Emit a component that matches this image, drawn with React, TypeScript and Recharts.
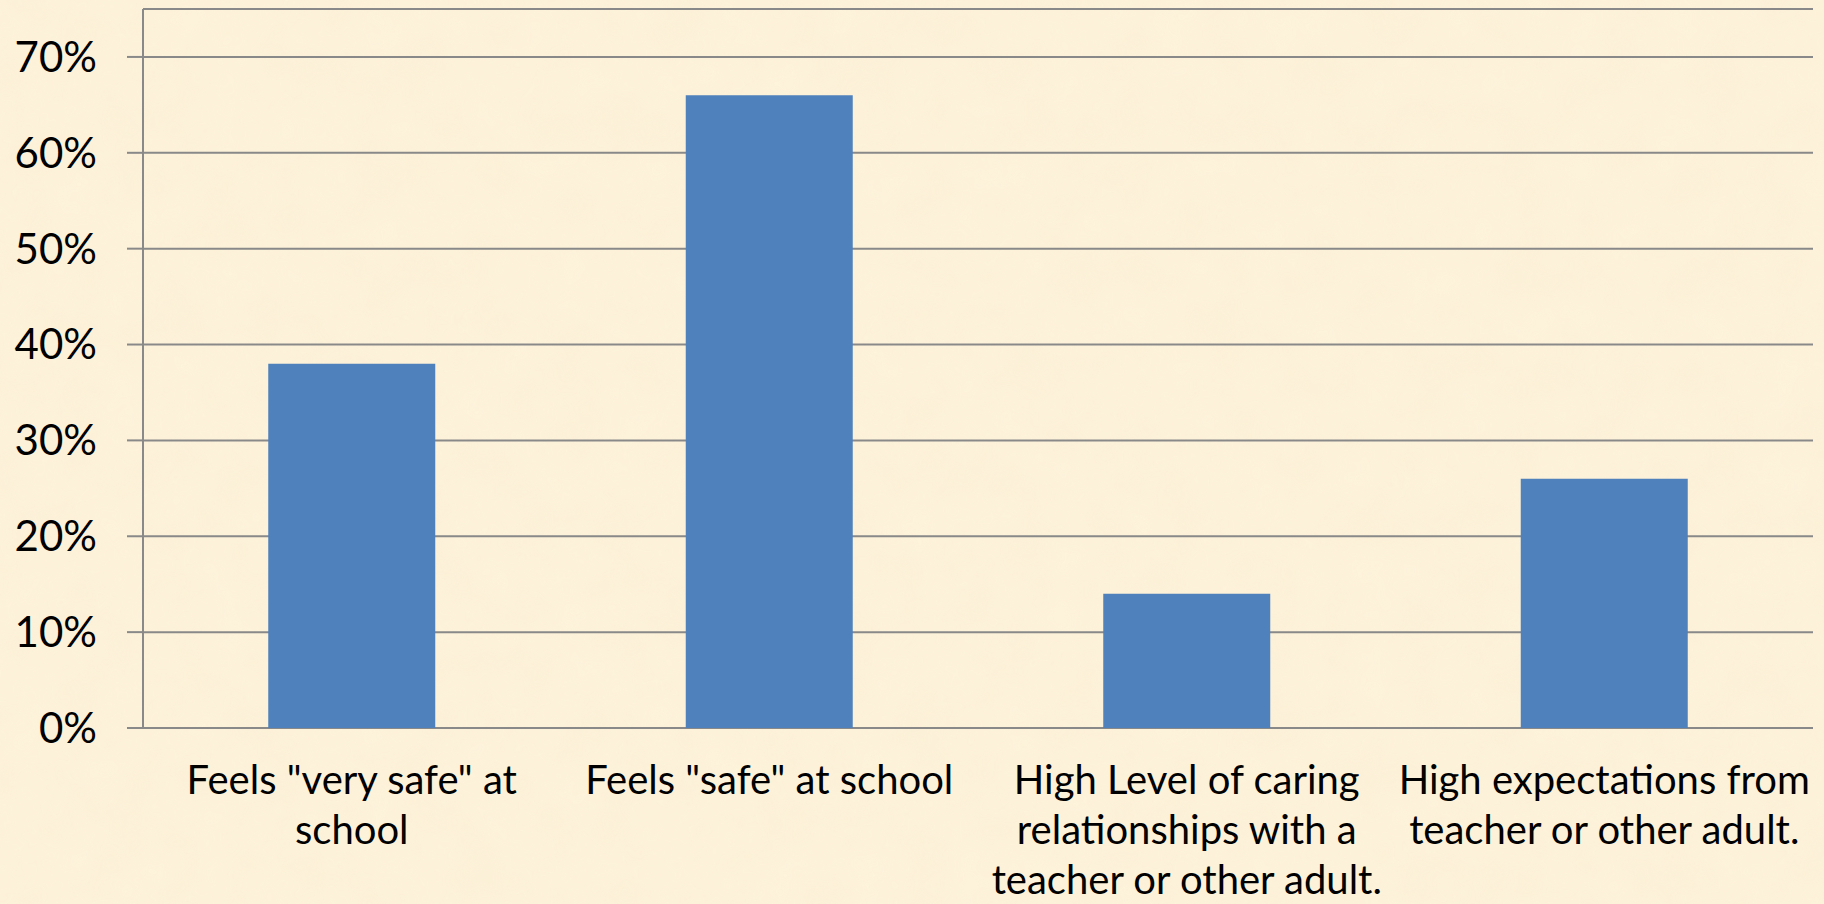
import { BarChart, Bar, XAxis, YAxis, CartesianGrid } from 'recharts'

const categories = [
  'Feels "very safe" at school',
  'Feels "safe" at school',
  'High Level of caring relationships with a teacher or other adult.',
  'High expectations from teacher or other adult.',
]
const labelLines = [
  ['Feels "very safe" at', 'school'],
  ['Feels "safe" at school'],
  ['High Level of caring', 'relationships with a', 'teacher or other adult.'],
  ['High expectations from', 'teacher or other adult.'],
]
const values = [0.38, 0.66, 0.14, 0.26]
const yTicks = [0, 0.1, 0.2, 0.3, 0.4, 0.5, 0.6, 0.7]
const boundaryTicks = [0, 1, 2, 3, 4]

const data = categories.map((name, i) => ({ name, value: values[i], idx: i }))

const FONT = 'Lato, "Open Sans", sans-serif'
const AXIS = '#898989'

function CategoryTick(props: any) {
  const { x, y, index } = props
  const lines = labelLines[index] || []
  return (
    <text x={x} y={y} textAnchor="middle" fill="#000" fontFamily={FONT} fontSize={40}>
      {lines.map((l, i) => (
        <tspan key={i} x={x} y={y + 52 + i * 50}>
          {l}
        </tspan>
      ))}
    </text>
  )
}

export default function App() {
  return (
    <div style={{ position: 'absolute', left: 0, top: 0, width: 1824, height: 904, overflow: 'hidden', background: '#fcf0d6' }}>
      <svg width={1824} height={904} style={{ position: 'absolute', left: 0, top: 0 }}>
        <filter id="paper">
          <feTurbulence type="fractalNoise" baseFrequency="0.02" numOctaves={3} seed={7} />
          <feColorMatrix type="matrix" values="0 0 0 0 0.94  0 0 0 0 0.86  0 0 0 0 0.64  0 0 0 0.6 -0.1" />
        </filter>
        <rect width={1824} height={904} fill="#fdf2da" />
        <rect width={1824} height={904} filter="url(#paper)" opacity={0.55} />
      </svg>
      <div style={{ position: 'absolute', left: 0, top: 0 }}>
        <BarChart width={1824} height={904} data={data} margin={{ top: 9, right: 11, left: 0, bottom: 0 }} barCategoryGap="30%">
          <CartesianGrid vertical={false} stroke={AXIS} strokeWidth={2} />
          <XAxis
            xAxisId="edges"
            type="number"
            dataKey="idx"
            domain={[0, 4]}
            ticks={boundaryTicks}
            allowDataOverflow
            height={0}
            tick={false}
            tickSize={12}
            axisLine={{ stroke: AXIS, strokeWidth: 2 }}
            tickLine={{ stroke: AXIS, strokeWidth: 2 }}
          />
          <XAxis
            dataKey="name"
            height={176}
            axisLine={false}
            tickLine={false}
            tickSize={12}
            tickMargin={2}
            interval={0}
            tick={<CategoryTick />}
          />
          <YAxis
            width={143}
            domain={[0, 0.75]}
            ticks={yTicks}
            allowDataOverflow
            tickFormatter={(v: number) => `${Math.round(v * 100)}%`}
            tick={{ fill: '#000', fontFamily: FONT, fontSize: 42 }}
            tickSize={16}
            tickMargin={30}
            axisLine={{ stroke: AXIS, strokeWidth: 2 }}
            tickLine={{ stroke: AXIS, strokeWidth: 2 }}
          />
          <Bar dataKey="value" fill="#4f81bd" isAnimationActive={false} />
        </BarChart>
      </div>
    </div>
  )
}
